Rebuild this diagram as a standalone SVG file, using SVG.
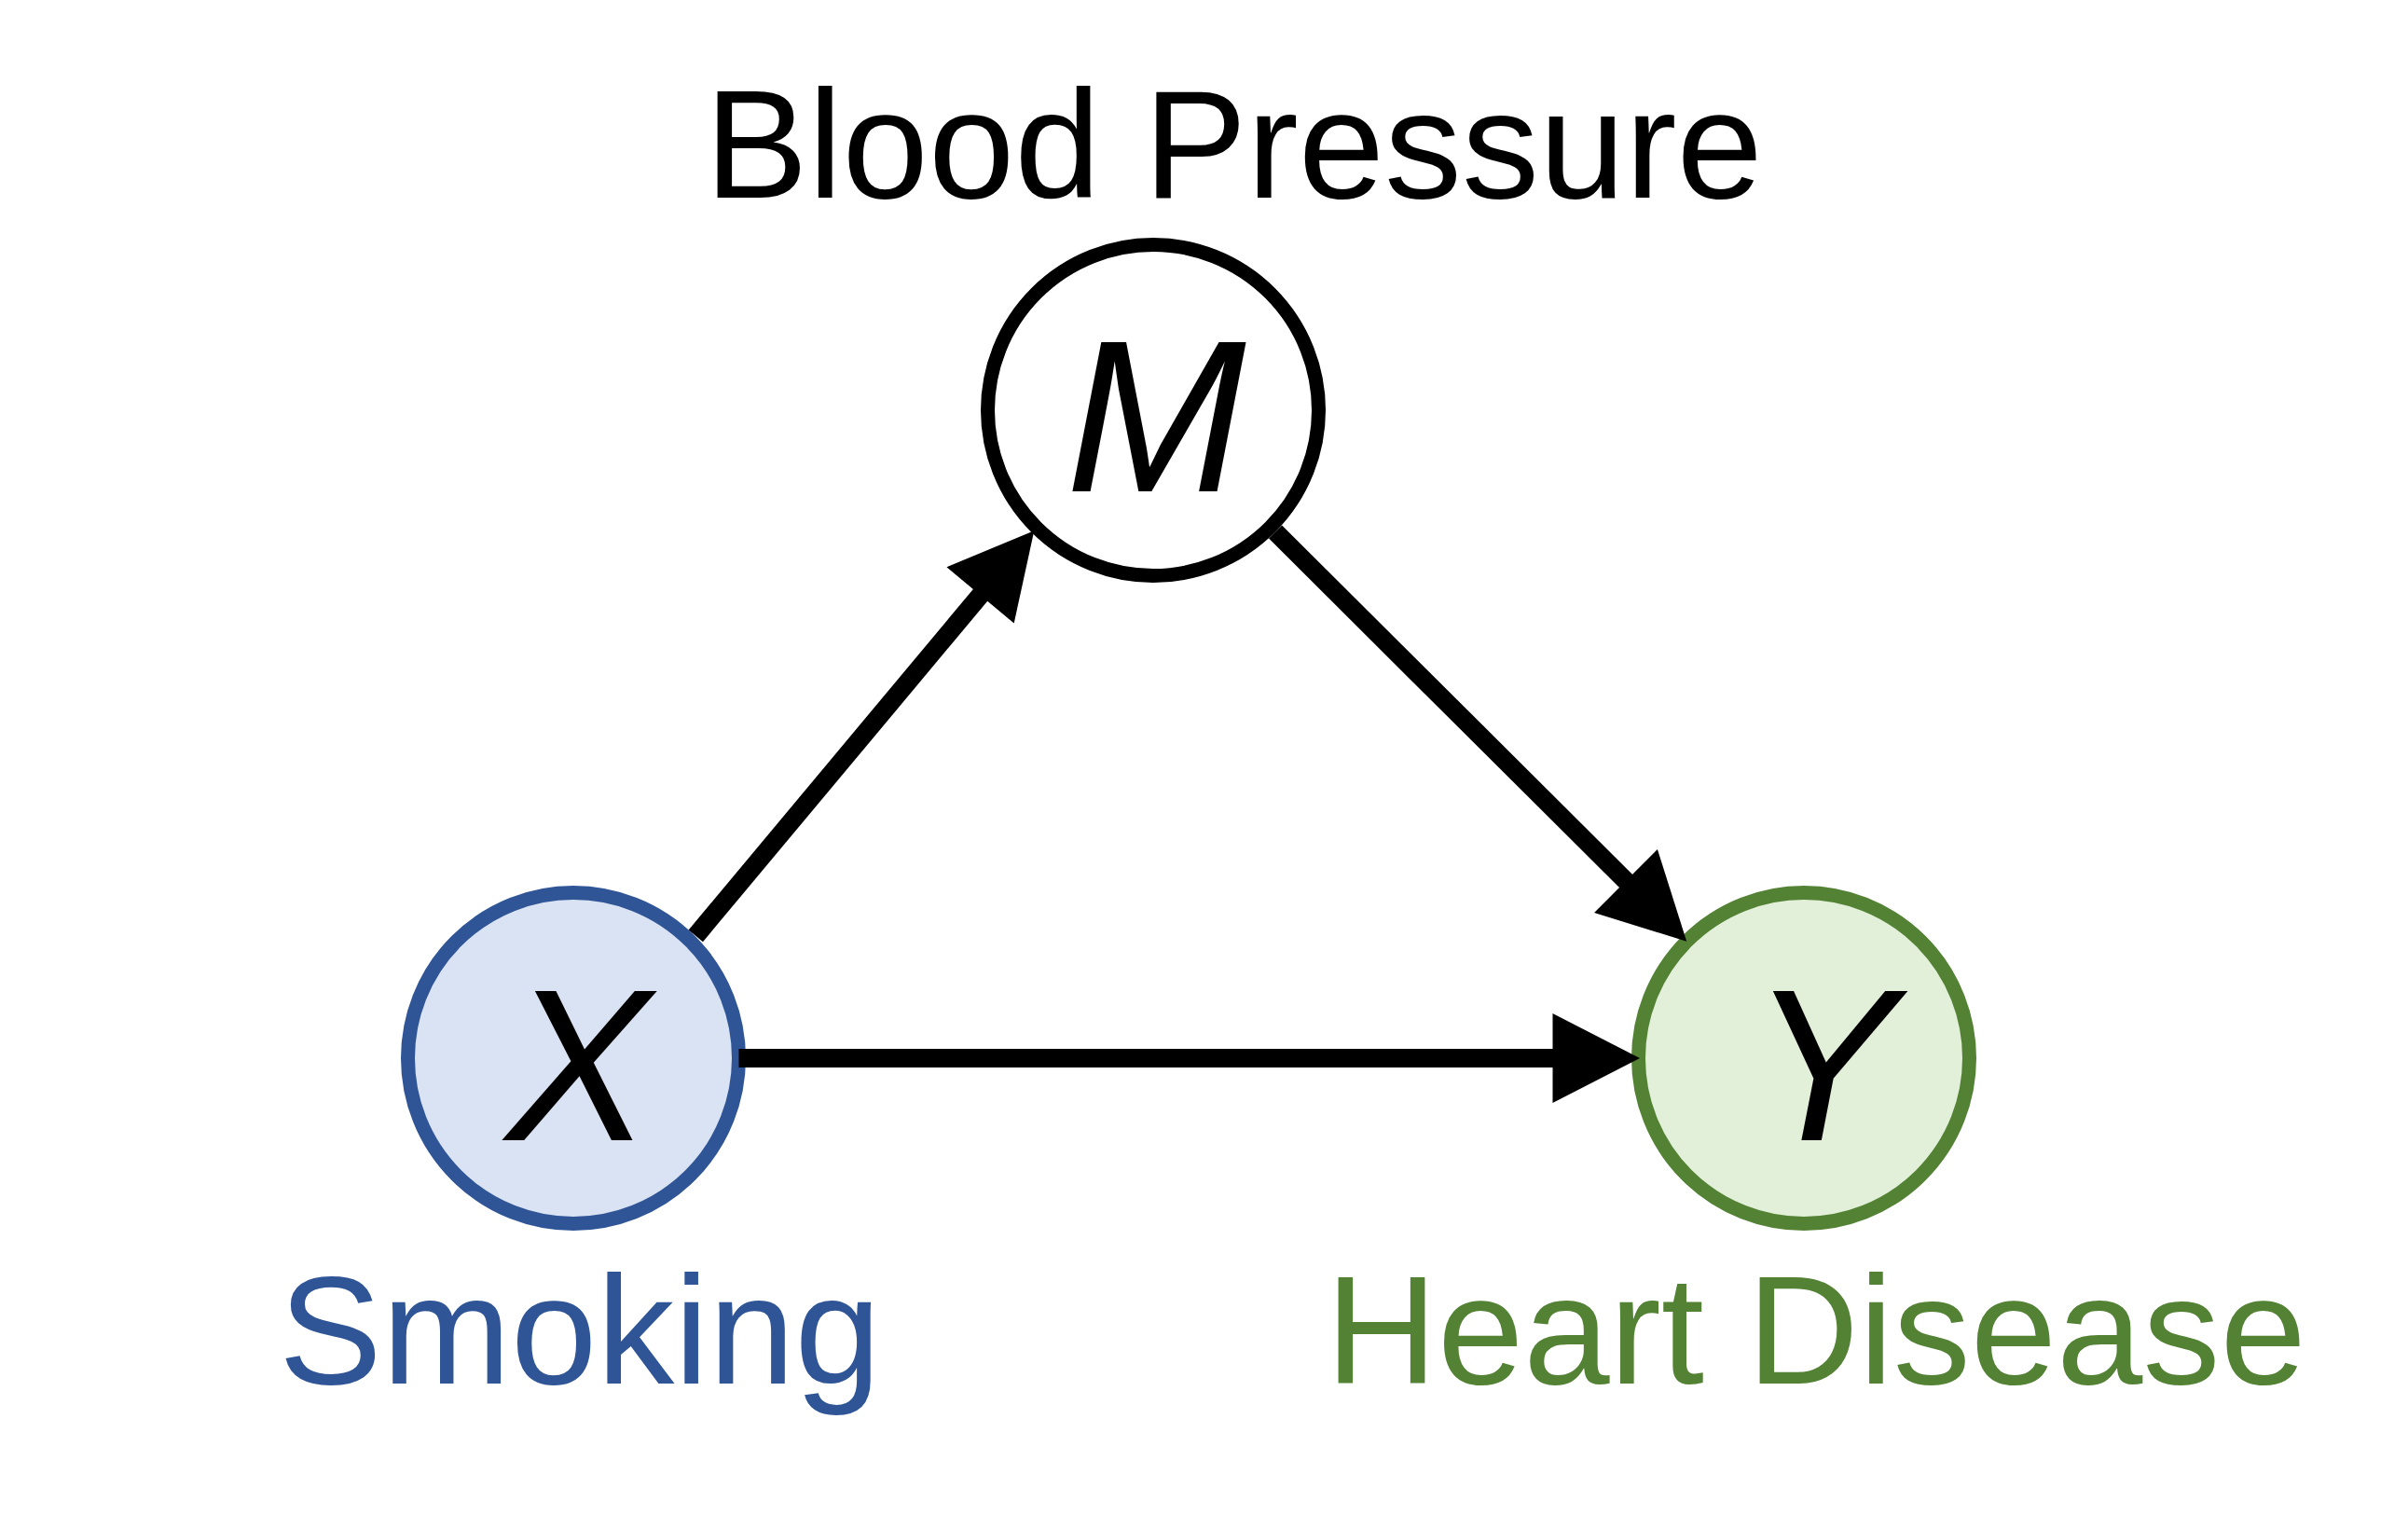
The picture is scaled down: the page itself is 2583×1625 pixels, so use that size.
<svg xmlns="http://www.w3.org/2000/svg" width="2583" height="1625" viewBox="0 0 2583 1625">
<style>
.node{stroke-width:15}
.var{font-family:"Liberation Sans",Arial,sans-serif;font-style:italic;font-size:232px;fill:#000;text-anchor:middle}
.lbl{font-family:"Liberation Sans",Arial,sans-serif;font-size:166px}
.edge{stroke:#000;stroke-width:20;fill:none}
.head{fill:#000}
</style>
<rect width="2583" height="1625" fill="#fff"/>
<g id="node-M">
<circle class="node" cx="1237" cy="440" r="177.5" fill="#fff" stroke="#000"/>
<text class="var" x="1240" y="527">M</text>
<text class="lbl" x="756" y="212" fill="#000">Blood Pressure</text>
</g>
<g id="node-X">
<circle class="node" cx="615" cy="1135" r="177.5" fill="#dae3f3" stroke="#2f5597"/>
<text class="var" x="620" y="1223">X</text>
<text class="lbl" x="299" y="1484" fill="#2f5597">Smoking</text>
</g>
<g id="node-Y">
<circle class="node" cx="1935" cy="1135" r="177.5" fill="#e2f0d9" stroke="#548235"/>
<text class="var" x="1955" y="1223">Y</text>
<text class="lbl" x="1422" y="1484" fill="#548235">Heart Disease</text>
</g>
<g id="connectors">
<line class="edge" x1="746.3" y1="1003.8" x2="1070.8" y2="615.3"/>
<polygon class="head" points="1109.3,569.3 1087.7,668.5 1015.5,608.3"/>
<line class="edge" x1="1368.1" y1="570.5" x2="1766.7" y2="967.5"/>
<polygon class="head" points="1809.2,1009.8 1710.1,978.9 1777.9,910.9"/>
<line class="edge" x1="792.5" y1="1135" x2="1697.5" y2="1135"/>
<polygon class="head" points="1759,1135 1665.5,1087 1665.5,1183"/>
</g>
</svg>
